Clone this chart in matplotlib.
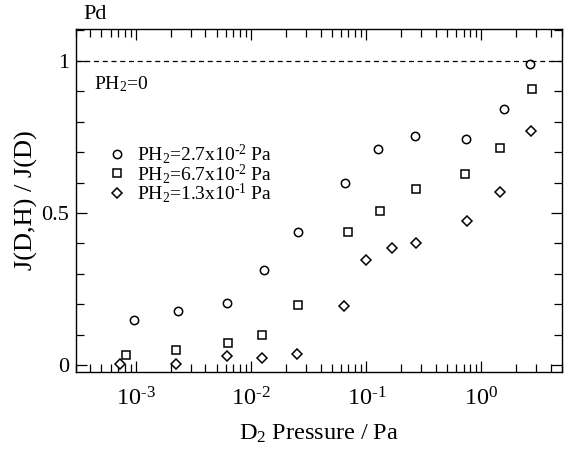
import numpy as np
import matplotlib
matplotlib.use("Agg")
import matplotlib.pyplot as plt
from matplotlib.ticker import LogLocator, MultipleLocator, FixedLocator, NullFormatter, FuncFormatter

plt.rcParams['font.family'] = ['Liberation Serif', 'DejaVu Serif']
plt.rcParams['mathtext.fontset'] = 'custom'
plt.rcParams['mathtext.rm'] = 'Liberation Serif'
plt.rcParams['mathtext.it'] = 'Liberation Serif:italic'

HY = '\u2010'  # plain hyphen in superscripts, as in the original

# PH2 = 2.7x10^-2 Pa (circles)
x_c = [9.5e-4, 2.31e-3, 6.1e-3, 1.28e-2, 2.53e-2, 6.5e-2, 0.126, 0.265, 0.74, 1.57, 2.65]
y_c = [0.147, 0.179, 0.204, 0.314, 0.437, 0.598, 0.709, 0.754, 0.742, 0.843, 0.990]

# PH2 = 6.7x10^-2 Pa (squares)
x_s = [8.2e-4, 2.24e-3, 6.3e-3, 1.25e-2, 2.53e-2, 6.9e-2, 0.131, 0.268, 0.72, 1.46, 2.76]
y_s = [0.034, 0.051, 0.073, 0.100, 0.196, 0.437, 0.508, 0.579, 0.629, 0.713, 0.908]

# PH2 = 1.3x10^-1 Pa (diamonds)
x_d = [7.3e-4, 2.21e-3, 6.2e-3, 1.25e-2, 2.51e-2, 6.4e-2, 0.100, 0.168, 0.27, 0.75, 1.45, 2.71]
y_d = [0.005, 0.005, 0.029, 0.022, 0.038, 0.195, 0.344, 0.385, 0.402, 0.474, 0.570, 0.769]

labels = ['PH$_2$=2.7x10$^{' + HY + '2}$ Pa',
          'PH$_2$=6.7x10$^{' + HY + '2}$ Pa',
          'PH$_2$=1.3x10$^{' + HY + '1}$ Pa']

fig = plt.figure(figsize=(5.71, 4.5), dpi=100)
ax = fig.add_axes([0.133, 0.173, 0.851, 0.763])

ax.plot(x_c, y_c, 'o', ms=6, mfc='white', mec='black', mew=1.1, ls='none', label=labels[0])
ax.plot(x_s, y_s, 's', ms=6, mfc='white', mec='black', mew=1.1, ls='none', label=labels[1])
ax.plot(x_d, y_d, 'D', ms=5.5, mfc='white', mec='black', mew=1.1, ls='none', label=labels[2])

ax.axhline(1.0, color='black', ls=(0, (4, 3)), lw=0.9)

ax.set_xscale('log')
ax.set_xlim(3e-4, 5)
ax.set_ylim(-0.023, 1.105)

def dec_fmt(v, pos):
    e = int(round(np.log10(v)))
    s = (HY + str(-e)) if e < 0 else str(e)
    return '10$^{' + s + '}$'

ax.xaxis.set_major_locator(LogLocator(base=10, numticks=10))
ax.xaxis.set_major_formatter(FuncFormatter(dec_fmt))
ax.xaxis.set_minor_locator(LogLocator(base=10, subs=np.arange(2, 10), numticks=10))
ax.xaxis.set_minor_formatter(NullFormatter())
ax.yaxis.set_major_locator(FixedLocator([0, 0.5, 1]))
ax.yaxis.set_minor_locator(MultipleLocator(0.1))
ax.set_yticklabels(['0', '0.5', '1'])

ax.tick_params(which='both', direction='in', top=True, right=True, width=0.9)
ax.tick_params(which='major', length=8)
ax.tick_params(which='minor', length=6)
ax.tick_params(axis='x', which='major', labelsize=17.5, pad=11)
ax.tick_params(axis='y', which='major', labelsize=16, pad=5)
for s in ax.spines.values():
    s.set_linewidth(1.0)

ax.set_xlabel(r'D$_2$ Pressure / Pa', fontsize=17.5, labelpad=9)
ax.set_ylabel('J(D,H) / J(D)', fontsize=19, labelpad=2)

ax.text(0.016, 1.015, 'Pd', transform=ax.transAxes, fontsize=16, ha='left', va='bottom')
ax.text(0.037, 0.84, r'PH$_2$=0', transform=ax.transAxes, fontsize=14, ha='left', va='center')

ax.legend(loc='upper left', bbox_to_anchor=(0.065, 0.67), frameon=False, fontsize=14,
          borderaxespad=0, borderpad=0, labelspacing=-0.22, handletextpad=0.5, handlelength=1.0)

fig.savefig('out.png', dpi=100)
